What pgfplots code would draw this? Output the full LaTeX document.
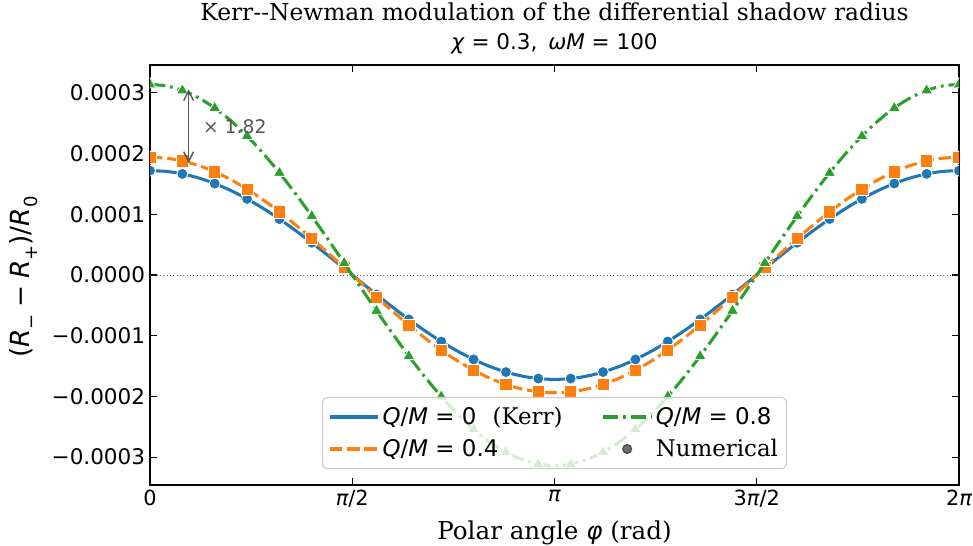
\documentclass[border=0pt]{standalone}
\usepackage{fontspec}
\setmainfont{DejaVu Serif}
\newfontfamily\dvs{DejaVu Sans}
\usepackage{graphicx}
\usepackage{pgfplots}
\pgfplotsset{compat=1.18}
\usepackage{pgfplotstable}
\usetikzlibrary{arrows.meta}
\definecolor{tblue}{HTML}{1F77B4}
\definecolor{torange}{HTML}{FF7F0E}
\definecolor{tgreen}{HTML}{2CA02C}
\definecolor{annot}{HTML}{555555}
\newcommand{\sub}[1]{\raisebox{-0.3em}{\fontsize{13}{13}\selectfont #1}}
\newcommand{\fs}[1]{\fontsize{#1}{#1}\selectfont}

% phi, Kerr (Q/M=0), Q/M=0.4, Q/M=0.8
\pgfplotstableread{
x B O G
0        1.7200e-4 1.9400e-4 3.1400e-4
0.125664 1.7064e-4 1.9247e-4 3.1152e-4
0.251327 1.6660e-4 1.8790e-4 3.0413e-4
0.376991 1.5992e-4 1.8038e-4 2.9195e-4
0.502655 1.5072e-4 1.7000e-4 2.7516e-4
0.628319 1.3915e-4 1.5695e-4 2.5403e-4
0.753982 1.2538e-4 1.4142e-4 2.2890e-4
0.879646 1.0964e-4 1.2366e-4 2.0015e-4
1.005310 0.9216e-4 1.0395e-4 1.6825e-4
1.130973 0.7323e-4 0.8260e-4 1.3369e-4
1.256637 0.5315e-4 0.5995e-4 0.9703e-4
1.382301 0.3223e-4 0.3635e-4 0.5884e-4
1.507964 0.1080e-4 0.1218e-4 0.1972e-4
1.633628 -0.1080e-4 -0.1218e-4 -0.1972e-4
1.759292 -0.3223e-4 -0.3635e-4 -0.5884e-4
1.884956 -0.5315e-4 -0.5995e-4 -0.9703e-4
2.010619 -0.7323e-4 -0.8260e-4 -1.3369e-4
2.136283 -0.9216e-4 -1.0395e-4 -1.6825e-4
2.261947 -1.0964e-4 -1.2366e-4 -2.0015e-4
2.387610 -1.2538e-4 -1.4142e-4 -2.2890e-4
2.513274 -1.3915e-4 -1.5695e-4 -2.5403e-4
2.638938 -1.5072e-4 -1.7000e-4 -2.7516e-4
2.764602 -1.5992e-4 -1.8038e-4 -2.9195e-4
2.890265 -1.6660e-4 -1.8790e-4 -3.0413e-4
3.015929 -1.7064e-4 -1.9247e-4 -3.1152e-4
3.141593 -1.7200e-4 -1.9400e-4 -3.1400e-4
3.267256 -1.7064e-4 -1.9247e-4 -3.1152e-4
3.392920 -1.6660e-4 -1.8790e-4 -3.0413e-4
3.518584 -1.5992e-4 -1.8038e-4 -2.9195e-4
3.644247 -1.5072e-4 -1.7000e-4 -2.7516e-4
3.769911 -1.3915e-4 -1.5695e-4 -2.5403e-4
3.895575 -1.2538e-4 -1.4142e-4 -2.2890e-4
4.021239 -1.0964e-4 -1.2366e-4 -2.0015e-4
4.146902 -0.9216e-4 -1.0395e-4 -1.6825e-4
4.272566 -0.7323e-4 -0.8260e-4 -1.3369e-4
4.398230 -0.5315e-4 -0.5995e-4 -0.9703e-4
4.523893 -0.3223e-4 -0.3635e-4 -0.5884e-4
4.649557 -0.1080e-4 -0.1218e-4 -0.1972e-4
4.775221 0.1080e-4 0.1218e-4 0.1972e-4
4.900885 0.3223e-4 0.3635e-4 0.5884e-4
5.026548 0.5315e-4 0.5995e-4 0.9703e-4
5.152212 0.7323e-4 0.8260e-4 1.3369e-4
5.277876 0.9216e-4 1.0395e-4 1.6825e-4
5.403539 1.0964e-4 1.2366e-4 2.0015e-4
5.529203 1.2538e-4 1.4142e-4 2.2890e-4
5.654867 1.3915e-4 1.5695e-4 2.5403e-4
5.780530 1.5072e-4 1.7000e-4 2.7516e-4
5.906194 1.5992e-4 1.8038e-4 2.9195e-4
6.031858 1.6660e-4 1.8790e-4 3.0413e-4
6.157522 1.7064e-4 1.9247e-4 3.1152e-4
6.283185 1.7200e-4 1.9400e-4 3.1400e-4
}\curves

\begin{document}
\begin{tikzpicture}
\begin{axis}[
  name=ax,
  scale only axis,
  width=582.5pt, height=302.4pt,
  xmin=0, xmax=6.283185,
  ymin=-0.000346, ymax=0.000346,
  scaled y ticks=false,
  xtick={0,1.570796,3.141593,4.712389,6.283185},
  xticklabels={0, {\itshape π}/2, {\itshape π}, 3{\itshape π}/2, 2{\itshape π}},
  ytick={-0.0003,-0.0002,-0.0001,0,0.0001,0.0002,0.0003},
  yticklabels={−0.0003,−0.0002,−0.0001,0.0000,0.0001,0.0002,0.0003},
  xticklabel style={font=\dvs\fs{15}},
  yticklabel style={font=\dvs\fs{15.5}},
  tick align=inside,
  xtick pos=both, ytick pos=both,
  major tick length=5pt,
  every tick/.style={black, line width=0.8pt},
  axis line style={line width=0.9pt},
  clip marker paths=true,
  legend columns=2,
  legend cell align=left,
  legend image code/.code={\draw[mark repeat=2,mark phase=2,#1] plot coordinates {(0pt,0pt) (17.5pt,0pt) (35pt,0pt)};},
  legend style={at={(0.5,0.038)}, anchor=south, font=\fs{16.5},
    draw=black!20, line width=0.8pt, fill=white, fill opacity=0.8, text opacity=1, draw opacity=1,
    rounded corners=3pt, inner xsep=4pt, inner ysep=5pt,
    /tikz/every even column/.append style={column sep=26pt},
    row sep=5pt},
]
\addplot[forget plot, black!65, line width=0.7pt, dash pattern=on 0.8pt off 1.6pt] coordinates {(0,0) (6.283185,0)};

\addplot[forget plot, tblue, line width=2.2pt, smooth, tension=0.5] table[x=x, y=B] {\curves};
\addplot[forget plot, each nth point=2, only marks, mark=*, mark size=4pt,
  mark options={fill=tblue, draw=white, line width=0.6pt}] table[x=x, y=B] {\curves};

\addplot[forget plot, torange, line width=2.2pt, smooth, tension=0.5, dash pattern=on 9pt off 3.5pt] table[x=x, y=O] {\curves};
\addplot[forget plot, each nth point=2, only marks, mark=square*, mark size=4.4pt,
  mark options={fill=torange, draw=white, line width=0.6pt}] table[x=x, y=O] {\curves};

\addplot[forget plot, tgreen, line width=2.2pt, smooth, tension=0.5, dash pattern=on 11pt off 3.5pt on 2pt off 3.5pt] table[x=x, y=G] {\curves};
\addplot[forget plot, each nth point=2, only marks, mark=triangle*, mark size=5pt,
  mark options={fill=tgreen, draw=white, line width=0.6pt}] table[x=x, y=G] {\curves};

\addlegendimage{tblue, line width=2.2pt}
\addlegendentry{{\dvs\textit{Q}/\textit{M} = 0}\hspace{0.7em}(Kerr)}
\addlegendimage{tgreen, line width=2.2pt, dash pattern=on 11pt off 3.5pt on 2pt off 3.5pt}
\addlegendentry{{\dvs\textit{Q}/\textit{M} = 0.8}}
\addlegendimage{torange, line width=2.2pt, dash pattern=on 9pt off 3.5pt}
\addlegendentry{{\dvs\textit{Q}/\textit{M} = 0.4}}
\addlegendimage{only marks, mark=*, mark size=3.2pt, black!72}
\addlegendentry{Numerical}

\draw[annot, line width=1pt, {Straight Barb[length=7pt,width=7pt]}-{Straight Barb[length=7pt,width=7pt]}]
  (axis cs:0.3,0.000306) -- (axis cs:0.3,0.0001845);
\node[anchor=west, text=annot, font=\dvs\fs{13.5}, inner sep=0pt] at (axis cs:0.41,0.000245) {× 1.82};
\end{axis}

\node[anchor=base, font=\fs{16.8}] at ([yshift=32.2pt]ax.north) {Kerr-\kern0pt-Newman modulation of the differential shadow radius};
\node[anchor=base, font=\dvs\fs{15.5}] at ([yshift=10.8pt]ax.north) {\textit{χ} = 0.3,\hspace{0.5em}\textit{ω}\textit{M} = 100};
\node[anchor=base, font=\fs{17.7}] at ([yshift=-39pt]ax.south) {Polar angle {\dvs\itshape φ} (rad)};
\node[rotate=90, anchor=center, font=\dvs\fs{19}] at ([xshift=-91pt, yshift=-1.5pt]ax.west)
  {(\textit{R}\sub{−}\hspace{0.25em}−\hspace{0.25em}\textit{R}\sub{+})/\textit{R}\sub{0}};

\pgfresetboundingbox
\path[use as bounding box] ([xshift=-108pt,yshift=-43.92pt]ax.south west) rectangle ([xshift=10.08pt,yshift=46.8pt]ax.north east);
\end{tikzpicture}
\end{document}
